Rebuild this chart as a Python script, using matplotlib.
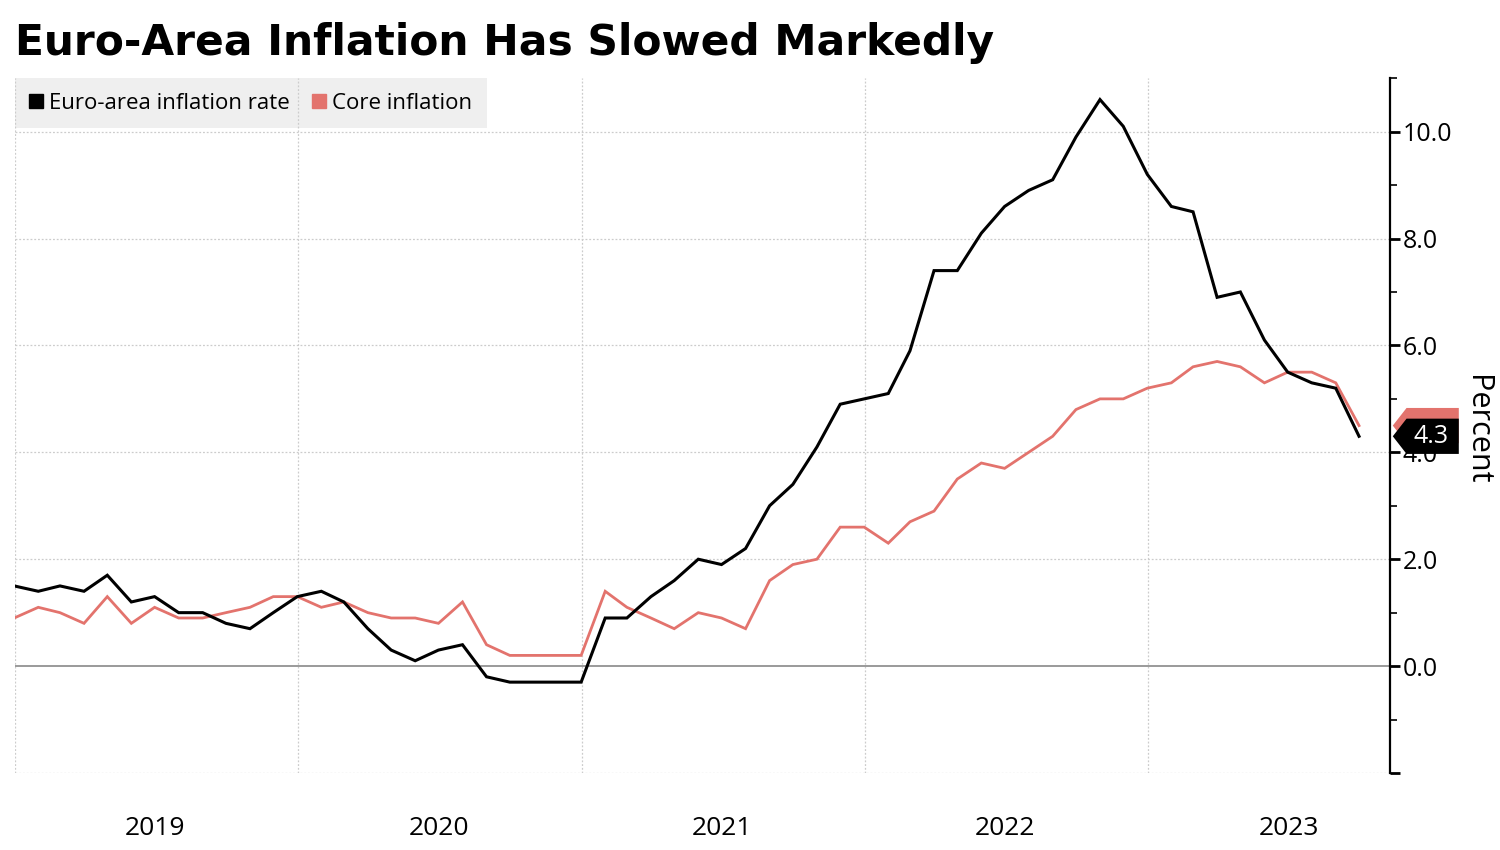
import numpy as np
import pandas as pd
import matplotlib
matplotlib.use("Agg")
import matplotlib.pyplot as plt
from matplotlib.patches import Polygon
from matplotlib.ticker import MultipleLocator, FuncFormatter

# monthly readings, plotted at month end (Dec 2018 .. Sep 2023)
dates = pd.date_range(start="2018-12-31", periods=58, freq=pd.offsets.MonthEnd())

headline = [1.5,
            1.4, 1.5, 1.4, 1.7, 1.2, 1.3, 1.0, 1.0, 0.8, 0.7, 1.0, 1.3,
            1.4, 1.2, 0.7, 0.3, 0.1, 0.3, 0.4, -0.2, -0.3, -0.3, -0.3, -0.3,
            0.9, 0.9, 1.3, 1.6, 2.0, 1.9, 2.2, 3.0, 3.4, 4.1, 4.9, 5.0,
            5.1, 5.9, 7.4, 7.4, 8.1, 8.6, 8.9, 9.1, 9.9, 10.6, 10.1, 9.2,
            8.6, 8.5, 6.9, 7.0, 6.1, 5.5, 5.3, 5.2, 4.3]

core = [0.9,
        1.1, 1.0, 0.8, 1.3, 0.8, 1.1, 0.9, 0.9, 1.0, 1.1, 1.3, 1.3,
        1.1, 1.2, 1.0, 0.9, 0.9, 0.8, 1.2, 0.4, 0.2, 0.2, 0.2, 0.2,
        1.4, 1.1, 0.9, 0.7, 1.0, 0.9, 0.7, 1.6, 1.9, 2.0, 2.6, 2.6,
        2.3, 2.7, 2.9, 3.5, 3.8, 3.7, 4.0, 4.3, 4.8, 5.0, 5.0, 5.2,
        5.3, 5.6, 5.7, 5.6, 5.3, 5.5, 5.5, 5.3, 4.5]

years = [2019, 2020, 2021, 2022, 2023]
series_names = ["Euro-area inflation rate", "Core inflation"]

black = "#000000"
red = "#e3736d"
grid_c = "#cccccc"

plt.rcParams['font.family'] = ['Open Sans', 'DejaVu Sans']

fig = plt.figure(figsize=(15, 8.5), dpi=100)
ax = fig.add_axes([0.01, 0.0906, 0.9167, 0.8174])

ax.plot(dates, headline, color=black, lw=2.2, zorder=4, solid_joinstyle='miter')
ax.plot(dates, core, color=red, lw=2.0, zorder=3, solid_joinstyle='miter')

ax.set_xlim(pd.Timestamp("2019-01-01"), pd.Timestamp("2023-11-09"))
ax.set_ylim(-2, 11)

# grid
for y in [-2, 2, 4, 6, 8, 10]:
    ax.axhline(y, color=grid_c, lw=0.9, ls=(0, (1.5, 1.5)), zorder=0.5)
for yr in years:
    ax.axvline(pd.Timestamp(f"{yr}-01-01"), color=grid_c, lw=0.9, ls=(0, (1.5, 1.5)), zorder=0.5)
ax.axhline(0, color="#9a9a9a", lw=1.4, zorder=1)

# spines
for s in ["top", "left", "bottom"]:
    ax.spines[s].set_visible(False)
ax.spines["right"].set_color(black)
ax.spines["right"].set_linewidth(1.6)

# y axis on the right
ax.yaxis.tick_right()
ax.yaxis.set_major_locator(MultipleLocator(2))
ax.yaxis.set_minor_locator(MultipleLocator(1))
ax.yaxis.set_major_formatter(FuncFormatter(lambda v, p: "" if v < 0 else f"{v:.1f}"))
ax.tick_params(axis="y", which="major", direction="out", length=7, width=2,
               labelsize=18, pad=2, colors=black)
ax.tick_params(axis="y", which="minor", direction="out", length=5, width=1.2, colors=black)

# x axis: year labels mid-year
ax.set_xticks([pd.Timestamp(f"{yr}-07-01") for yr in years])
ax.set_xticklabels([str(yr) for yr in years])
ax.tick_params(axis="x", length=0, labelsize=19, pad=31)

ax.text(1.063, 0.494, "Percent", transform=ax.transAxes, rotation=270,
        ha="center", va="center", fontsize=22)

# legend
handles = [plt.Line2D([], [], ls="none", marker="s", ms=10, color=c) for c in [black, red]]
leg = ax.legend(handles, series_names, loc="upper left", bbox_to_anchor=(0, 1),
                ncol=2, frameon=True, fancybox=False, borderaxespad=0,
                handlelength=0.6, handletextpad=0.3, columnspacing=1.0,
                fontsize=16, borderpad=0.65)
leg.get_frame().set_facecolor("#ececec")
leg.get_frame().set_edgecolor("none")
leg.set_zorder(0.2)

# last-value tags
tr = matplotlib.transforms.blended_transform_factory(ax.transAxes, ax.transData)

def tag(val, color, z, label=None):
    h = 0.33
    pts = [(1.002, val), (1.012, val + h), (1.05, val + h),
           (1.05, val - h), (1.012, val - h)]
    ax.add_patch(Polygon(pts, closed=True, transform=tr, facecolor=color,
                         edgecolor="none", clip_on=False, zorder=z))
    if label:
        ax.text(1.0295, val, label, transform=tr, ha="center", va="center",
                color="white", fontsize=18, zorder=z + 0.1, clip_on=False)

tag(core[-1], red, 6)
tag(headline[-1], black, 7, f"{headline[-1]:.1f}")

fig.text(0.01, 0.949, "Euro-Area Inflation Has Slowed Markedly", fontsize=30.5,
         fontweight="bold", ha="left", va="center", family=["DejaVu Sans"])

fig.savefig("out.png", dpi=100, facecolor="white")
